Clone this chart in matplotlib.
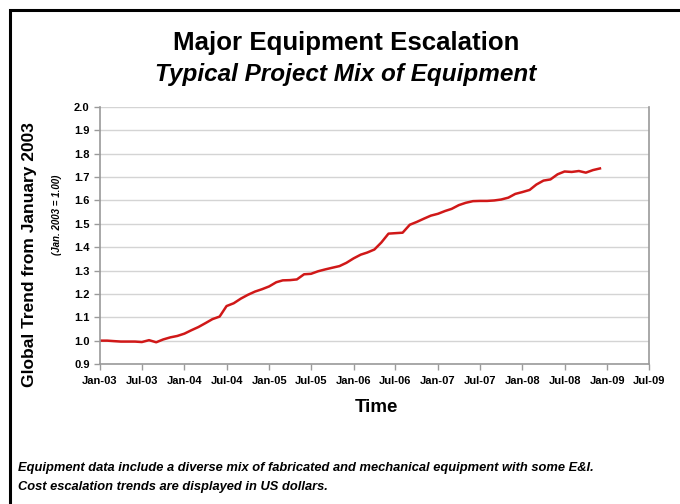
import numpy as np
import pandas as pd
import matplotlib
matplotlib.use("Agg")
import matplotlib.pyplot as plt
import matplotlib.dates as mdates
from matplotlib.patches import Rectangle
from matplotlib import font_manager

# Monthly escalation index, Jan 2003 = 1.00
start_month = "2003-01-01"
index_values = [
    1.000, 1.000, 0.998, 0.996, 0.996, 0.996, 0.994, 1.002, 0.993, 1.005, 1.014, 1.020,
    1.030, 1.045, 1.058, 1.075, 1.092, 1.103, 1.148, 1.160, 1.180, 1.196, 1.210, 1.220,
    1.232, 1.250, 1.258, 1.259, 1.262, 1.284, 1.286, 1.297, 1.305, 1.312, 1.319, 1.333,
    1.352, 1.368, 1.377, 1.390, 1.420, 1.458, 1.460, 1.462, 1.496, 1.508, 1.522, 1.535,
    1.543, 1.555, 1.564, 1.580, 1.590, 1.597, 1.598, 1.598, 1.600, 1.604, 1.612, 1.628,
    1.636, 1.645, 1.668, 1.685, 1.690, 1.712, 1.724, 1.722, 1.726, 1.719, 1.730, 1.737,
]
y_ticks = [0.9, 1.0, 1.1, 1.2, 1.3, 1.4, 1.5, 1.6, 1.7, 1.8, 1.9, 2.0]

title = "Major Equipment Escalation"
subtitle = "Typical Project Mix of Equipment"
y_label = "Global Trend from January 2003"
y_sublabel = "(Jan. 2003 = 1.00)"
x_label = "Time"
notes = [
    "Equipment data include a diverse mix of fabricated and mechanical equipment with some E&I.",
    "Cost escalation trends are displayed in US dollars.",
]

months = pd.date_range(start_month, periods=len(index_values), freq="MS")

available = {f.name for f in font_manager.fontManager.ttflist}
narrow = "Liberation Sans Narrow" if "Liberation Sans Narrow" in available else "Liberation Sans"
plt.rcParams["font.family"] = [narrow, "DejaVu Sans"]
sans = ["Liberation Sans", "DejaVu Sans"]

fig = plt.figure(figsize=(6.8, 5.04), dpi=100)

# outer frame
fig.patches.append(Rectangle((10 / 680, -0.05), 1.2, (494 / 504) + 0.05,
                             transform=fig.transFigure, fill=False,
                             edgecolor="black", linewidth=2.2))

ax = fig.add_axes([100 / 680, 1 - 364 / 504, 549 / 680, 257 / 504])
ax.plot(months, index_values, color="#d01818", linewidth=1.8)

ax.set_ylim(0.9, 2.0)
ax.set_yticks(y_ticks)
ax.set_yticklabels([f"{v:.1f}" for v in y_ticks])
ax.set_xlim(pd.Timestamp("2003-01-01"), pd.Timestamp("2009-07-01"))
ax.xaxis.set_major_locator(mdates.MonthLocator(bymonth=[1, 7]))
ax.xaxis.set_major_formatter(mdates.DateFormatter("%b-%y"))

ax.grid(axis="y", color="#d4d4d4", linewidth=1.0)
ax.set_axisbelow(True)
for side in ["left", "bottom", "right", "top"]:
    ax.spines[side].set_color("#9a9a9a")
    ax.spines[side].set_linewidth(1.2)
ax.spines["top"].set_visible(False)
ax.tick_params(axis="both", color="#9a9a9a", length=4, width=1, labelsize=8)
ax.tick_params(axis="x", pad=5)
for lab in ax.get_xticklabels() + ax.get_yticklabels():
    lab.set_fontweight("bold")

fig.text(346 / 680, 1 - 43 / 504, title, ha="center", va="center",
         fontsize=18.6, fontweight="bold", family=sans)
fig.text(346 / 680, 1 - 74 / 504, subtitle, ha="center", va="center",
         fontsize=17.5, fontweight="bold", style="italic", family=sans)
fig.text(30 / 680, 1 - 255 / 504, y_label, ha="center", va="center", rotation=90,
         fontsize=12.5, fontweight="bold", family=sans)
fig.text(57 / 680, 1 - 215 / 504, y_sublabel, ha="center", va="center", rotation=90,
         fontsize=7, fontweight="bold", style="italic")
fig.text(376 / 680, 1 - 407 / 504, x_label, ha="center", va="center",
         fontsize=13.5, fontweight="bold", family=sans)
for i, line in enumerate(notes):
    fig.text(18 / 680, 1 - (468 + 19 * i) / 504, line, ha="left", va="center",
             fontsize=9.3, fontweight="bold", style="italic")

fig.savefig("out.png", dpi=100)
